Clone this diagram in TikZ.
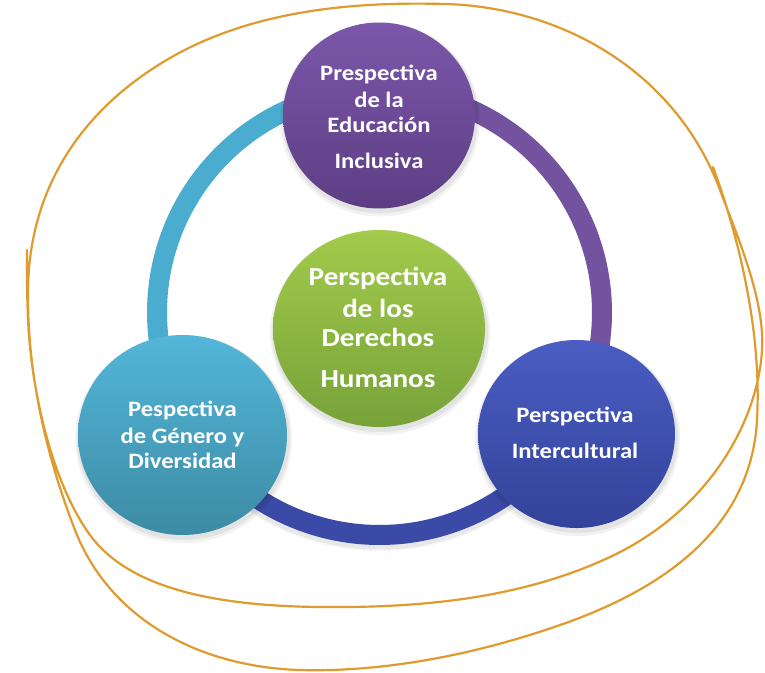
\documentclass[tikz,border=0pt]{standalone}
\usetikzlibrary{shapes.geometric}
\usepackage{fontspec}
\newfontfamily\labfont[FakeStretch=1.12]{Carlito}
\definecolor{penorange}{HTML}{E09B2F}
\definecolor{purpTop}{HTML}{7C57AA}
\definecolor{purpBot}{HTML}{5D3E84}
\definecolor{grnTop}{HTML}{A2CB4B}
\definecolor{grnBot}{HTML}{77A239}
\definecolor{cyaTop}{HTML}{53B6D9}
\definecolor{cyaBot}{HTML}{3D8BA4}
\definecolor{bluTop}{HTML}{4A5DC2}
\definecolor{bluBot}{HTML}{33439A}
\definecolor{ringCya}{HTML}{4AADCF}
\definecolor{ringPur}{HTML}{7352A0}
\definecolor{ringBlu}{HTML}{3A4AA6}
\begin{document}
\begin{tikzpicture}[x=1pt,y=-1pt,
  bub/.style={ellipse, inner sep=0pt, shading=axis, shading angle=0},
  lab/.style={anchor=base, text=white, inner sep=0pt, font=\labfont\bfseries\fontsize{22}{24}\selectfont},
  labbig/.style={lab, font=\labfont\bfseries\fontsize{26}{28}\selectfont},
  ringseg/.style={line width=20pt},
  pen/.style={draw=penorange, line width=2.2pt, line cap=round, line join=round}]
\useasboundingbox (0,0) rectangle (765,672);
\fill[white] (0,0) rectangle (765,672);

% ring shadow
\foreach \w/\o in {26/0.04,23/0.05}{
  \draw[black, opacity=\o, line width=\w pt] plot[domain=20:160, samples=80] ({379.5+222.5*cos(\x)},{315.5+222.5*sin(\x)});
}
% ring segments
\draw[ringseg, draw=ringCya] plot[domain=145:272, samples=90] ({379.5+222.5*cos(\x)},{312.5+222.5*sin(\x)});
\draw[ringseg, draw=ringPur] plot[domain=268:395, samples=90] ({379.5+222.5*cos(\x)},{312.5+222.5*sin(\x)});
\draw[ringseg, draw=ringBlu] plot[domain=30:150, samples=90] ({379.5+222.5*cos(\x)},{312.5+222.5*sin(\x)});

% shadows of the bubbles
\foreach \cx/\cy/\a/\b in {379/115.5/96/93, 379/328.5/106/98.5, 182.5/435/104.5/100, 576.5/434/98.5/94}{
  \fill[black, opacity=0.05] (\cx+1,\cy+4) ellipse ({\a+4} and {\b+4});
  \fill[black, opacity=0.06] (\cx+1,\cy+3) ellipse ({\a+2} and {\b+2});
}

% bubbles
\node[bub, minimum width=192pt, minimum height=186pt, top color=purpTop, bottom color=purpBot] (edu) at (379,115.5) {};
\node[bub, minimum width=212pt, minimum height=197pt, top color=grnTop, bottom color=grnBot] (ddhh) at (379,328.5) {};
\node[bub, minimum width=209pt, minimum height=200pt, top color=cyaTop, bottom color=cyaBot] (gen) at (182.5,435) {};
\node[bub, minimum width=197pt, minimum height=188pt, top color=bluTop, bottom color=bluBot] (intc) at (576.5,434) {};

% texts
\node[lab] (e1) at (379,80) {Prespectiva};
\node[lab] (e2) at (379,107) {de la};
\node[lab] (e3) at (379,132) {Educación};
\node[lab] (e4) at (379,168) {Inclusiva};

\node[labbig] (d1) at (378,285) {Perspectiva};
\node[labbig] (d2) at (378,317) {de los};
\node[labbig] (d3) at (378,346) {Derechos};
\node[labbig] (d4) at (378,387) {Humanos};

\node[lab] (g1) at (182.5,416) {Pespectiva};
\node[lab] (g2) at (182.5,443) {de Género y};
\node[lab] (g3) at (182.5,468) {Diversidad};

\node[lab] (i1) at (575,422) {Perspectiva};
\node[lab] (i2) at (575,458) {Intercultural};

% hand-drawn loop
\draw[pen] (713,167) .. controls (738,235) and (762,330) .. (757,420)
  .. controls (752,510) and (690,580) .. (560,625)
  .. controls (460,660) and (370,672) .. (300,670)
  .. controls (200,667) and (110,620) .. (75,530)
  .. controls (45,453) and (27,370) .. (28,290)
  .. controls (29,190) and (80,110) .. (170,58)
  .. controls (260,6) and (370,2) .. (445,4)
  .. controls (560,7) and (675,70) .. (720,190)
  .. controls (738,238) and (765,300) .. (762,350)
  .. controls (758,420) and (710,510) .. (610,557)
  .. controls (520,599) and (420,608) .. (320,607)
  .. controls (220,606) and (130,590) .. (90,535)
  .. controls (55,487) and (32,400) .. (28,320)
  .. controls (27,290) .. (27,250);
\end{tikzpicture}
\end{document}
